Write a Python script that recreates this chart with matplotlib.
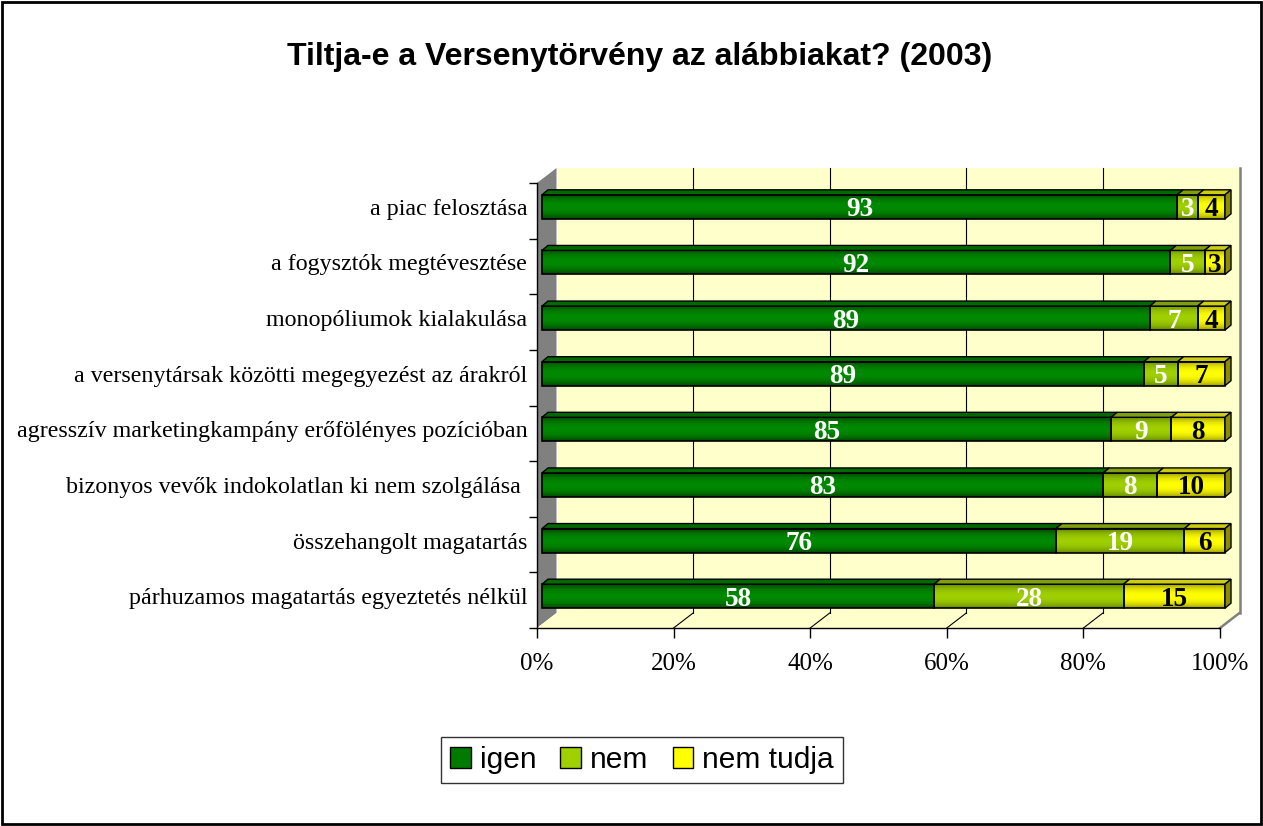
import numpy as np
import matplotlib
matplotlib.use("Agg")
import matplotlib.pyplot as plt
from matplotlib.patches import Polygon, Rectangle, Patch
from matplotlib.colors import to_rgb

# --- data (categories listed top to bottom) ---
categories = [
    "a piac felosztása",
    "a fogysztók megtévesztése",
    "monopóliumok kialakulása",
    "a versenytársak közötti megegyezést az árakról",
    "agresszív marketingkampány erőfölényes pozícióban",
    "bizonyos vevők indokolatlan ki nem szolgálása ",
    "összehangolt magatartás",
    "párhuzamos magatartás egyeztetés nélkül",
]
igen = [93, 92, 89, 89, 85, 83, 76, 58]
nem = [3, 5, 7, 5, 9, 8, 19, 28]
nem_tudja = [4, 3, 4, 7, 8, 10, 6, 15]
series_names = ["igen", "nem", "nem tudja"]
x_ticks = [0, 20, 40, 60, 80, 100]
title = "Tiltja-e a Versenytörvény az alábbiakat? (2003)"

# --- styling ---
face_dark = ["#003a00", "#5c7a00", "#8a8a00"]
face_light = ["#008a00", "#9fd000", "#ffff00"]
top_col = ["#006a00", "#7f9f10", "#cccc10"]
side_col = ["#005000", "#6a8400", "#8c8c00"]
label_col = ["white", "white", "black"]
wall_col = "#ffffcc"

W, H = 1263, 826
fig = plt.figure(figsize=(W / 100, H / 100), dpi=100)
ax = fig.add_axes([537 / W, 1 - 628 / H, 683 / W, 445 / H])
n = len(categories)
ax.set_xlim(0, 100)
ax.set_ylim(0, n)
ax.patch.set_visible(False)

sx = 683 / 100.0   # px per percent
sy = 445 / n       # px per category
DX, DY = 19.5 / sx, 15 / sy      # depth of the 3d box
OX, OY = 5 / sx, 4 / sy          # bar front offset
BX, BY = 6 / sx, 5 / sy          # bar depth
BH = 24 / sy                     # bar height

# back wall, left wall, floor
ax.add_patch(Polygon([(DX, DY), (100 + DX, DY), (100 + DX, n + DY), (DX, n + DY)],
                     closed=True, facecolor=wall_col, edgecolor="none", zorder=0, clip_on=False))
ax.add_patch(Polygon([(0, 0), (DX, DY), (DX, n + DY), (0, n)],
                     closed=True, facecolor="#808080", edgecolor="none", zorder=1, clip_on=False))
ax.add_patch(Polygon([(0, 0), (100, 0), (100 + DX, DY), (DX, DY)],
                     closed=True, facecolor=wall_col, edgecolor="none", zorder=1, clip_on=False))
ax.plot([100 + DX, 100 + DX], [DY, n + DY], color="#808080", lw=1.8, zorder=1, clip_on=False)
ax.plot([100, 100 + DX], [0, DY], color="#808080", lw=1.8, zorder=1, clip_on=False)
for t in x_ticks[1:-1]:
    ax.plot([t + DX, t + DX], [DY, n + DY], color="black", lw=0.8, zorder=1, clip_on=False)
    ax.plot([t, t + DX], [0, DY], color="black", lw=0.8, zorder=1, clip_on=False)

# bars
rows = np.linspace(0, 1, 40)
prof = np.sin(np.pi * rows) ** 0.6
data = np.array([igen, nem, nem_tudja], dtype=float)
totals = data.sum(axis=0)
for r in range(n):
    yc = n - 1 - r + 0.5
    y0 = yc + OY - BH / 2
    y1 = yc + OY + BH / 2
    cum = 0.0
    for s in range(3):
        w = data[s, r] / totals[r] * 100
        x0 = cum + OX
        x1 = cum + w + OX
        d = np.array(to_rgb(face_dark[s]))
        l = np.array(to_rgb(face_light[s]))
        grad = d[None, :] * (1 - prof[:, None]) + l[None, :] * prof[:, None]
        ax.imshow(grad[:, None, :], extent=[x0, x1, y0, y1], aspect="auto", origin="lower",
                  interpolation="bilinear", zorder=3, clip_on=False)
        ax.add_patch(Rectangle((x0, y0), x1 - x0, y1 - y0, fill=False, edgecolor="black",
                               lw=1.2, zorder=4, clip_on=False))
        ax.add_patch(Polygon([(x0, y1), (x1, y1), (x1 + BX, y1 + BY), (x0 + BX, y1 + BY)],
                             closed=True, facecolor=top_col[s], edgecolor="black", lw=1.0,
                             zorder=4, clip_on=False))
        if s == 2:
            ax.add_patch(Polygon([(x1, y0), (x1, y1), (x1 + BX, y1 + BY), (x1 + BX, y0 + BY)],
                                 closed=True, facecolor=side_col[s], edgecolor="black", lw=1.0,
                                 zorder=4, clip_on=False))
        ax.text((x0 + x1) / 2, (y0 + y1) / 2, str(int(data[s, r])), ha="center",
                va="center_baseline", color=label_col[s], fontsize=19.5, fontweight="bold",
                family="Liberation Serif", zorder=5)
        cum += w
ax.set_xlim(0, 100)
ax.set_ylim(0, n)

# axes
for side in ["top", "right"]:
    ax.spines[side].set_visible(False)
for side in ["left", "bottom"]:
    ax.spines[side].set_color("black")
    ax.spines[side].set_linewidth(1.0)
    ax.spines[side].set_zorder(2)

ax.set_xticks(x_ticks)
ax.set_xticklabels([f"{t}%" for t in x_ticks], family="Liberation Serif", fontsize=18)
ax.tick_params(axis="x", length=7.2, width=1, pad=11, direction="out")

centers = [n - 1 - r + 0.5 + OY for r in range(n)]
ax.set_yticks(centers)
ax.set_yticklabels(categories, family="Liberation Serif", fontsize=17.3)
ax.tick_params(axis="y", which="major", length=0, pad=7)
ax.set_yticks(np.arange(0, n + 1), minor=True)
ax.tick_params(axis="y", which="minor", length=5.8, width=1, direction="out")

fig.text(640 / W, 1 - 57 / H, title, ha="center", va="center", fontsize=23,
         fontweight="bold", family="Liberation Sans")

handles = [Patch(facecolor=face_light[s] if s else "#007a00", edgecolor="black", label=series_names[s])
           for s in range(3)]
leg = fig.legend(handles=handles, ncol=3, loc="center", bbox_to_anchor=(642 / W, 1 - 760 / H),
                 prop={"family": "Liberation Sans", "size": 21.5}, frameon=True, fancybox=False,
                 edgecolor="black", handlelength=0.7, handleheight=0.7, handletextpad=0.3,
                 columnspacing=0.8, borderpad=0.3, borderaxespad=0)
leg.get_frame().set_linewidth(1.0)

fig.patches.append(Rectangle((0.0015, 0.0022), 0.997, 0.9956, transform=fig.transFigure,
                             fill=False, edgecolor="black", lw=2))

fig.savefig("out.png", dpi=100)
